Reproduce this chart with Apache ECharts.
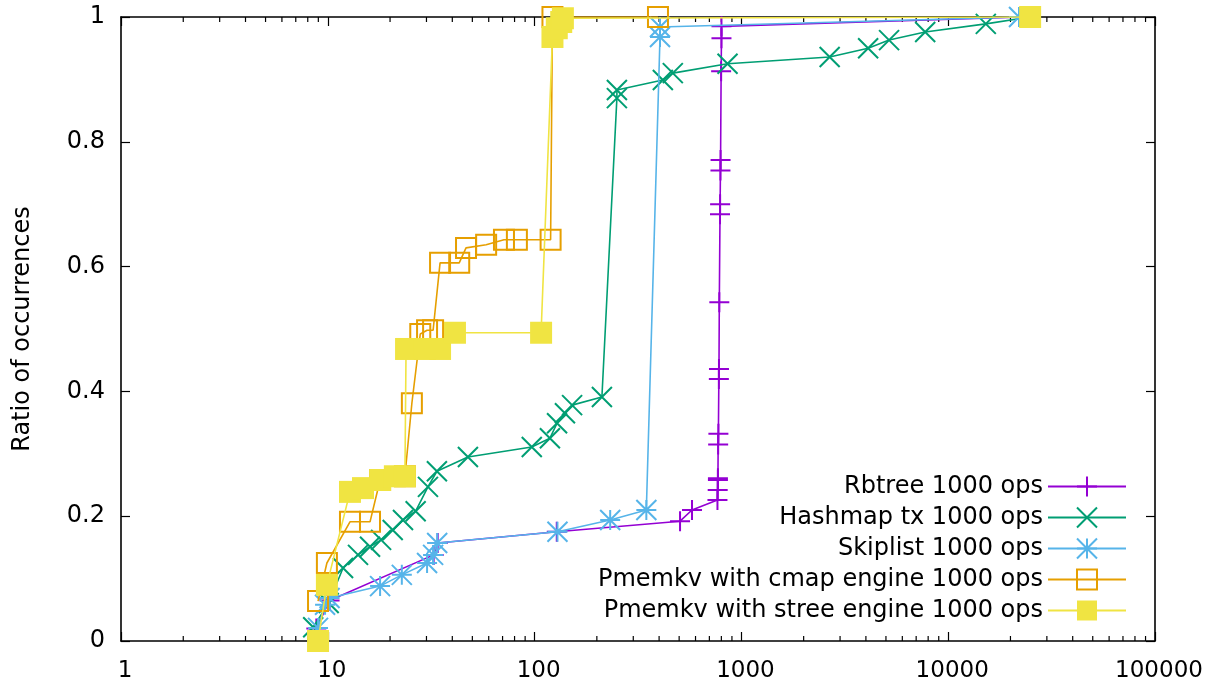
<!DOCTYPE html>
<html><head><meta charset="utf-8">
<script src="https://cdn.jsdelivr.net/npm/echarts@6/dist/echarts.min.js"></script>
<style>html,body{margin:0;padding:0;background:#fff}#c{width:1215px;height:692px}</style>
</head><body><div id="c"></div>
<script>
// ---- data ----
const seriesNames = [
  'Rbtree 1000 ops',
  'Hashmap tx 1000 ops',
  'Skiplist 1000 ops',
  'Pmemkv with cmap engine 1000 ops',
  'Pmemkv with stree engine 1000 ops'
];
const rbtree = [
  [8.8,0.02],[10.2,0.065],[32.5,0.138],[34,0.157],[128,0.175],[505,0.192],[577,0.21],
  [766,0.226],[768,0.242],[770,0.258],[770,0.261],[772,0.315],[774,0.332],[778,0.42],
  [779,0.436],[782,0.543],[788,0.684],[789,0.70],[792,0.754],[793,0.771],[798,0.913],
  [801,0.966],[801,0.985],[23000,1.0]
];
const hashmap = [
  [8.5,0.022],[10.1,0.061],[11.85,0.117],[14.0,0.138],[16.0,0.151],[18.1,0.162],[20.6,0.178],
  [23.1,0.194],[26.6,0.208],[30.5,0.247],[33.7,0.272],[47.6,0.295],[96.9,0.311],[118.6,0.325],
  [128.4,0.349],[140.2,0.365],[151.8,0.378],[211.6,0.391],[250,0.870],[250,0.883],[417,0.899],
  [466,0.910],[857,0.925],[2672,0.936],[4100,0.950],[5177,0.963],[7740,0.976],[15200,0.989],
  [24900,1.0]
];
const skiplist = [
  [8.97,0.021],[9.7,0.058],[10.2,0.069],[17.9,0.088],[22.8,0.106],[30.2,0.125],[32.3,0.138],
  [33.8,0.157],[129,0.175],[232,0.194],[347,0.21],[404,0.968],[404,0.984],[22000,1.0]
];
const cmap = [
  [8.97,0.064],[9.9,0.125],[12.8,0.191],[16.0,0.191],[17.9,0.258],[23.6,0.264],[25.5,0.381],
  [28.0,0.492],[30.2,0.498],[32.3,0.498],[34.9,0.606],[43.2,0.606],[46.6,0.630],[58.3,0.635],
  [71.1,0.643],[82.1,0.643],[119.5,0.643],[122,1.0],[395,1.0]
];
const stree = [
  [8.97,0.0],[9.9,0.09],[12.8,0.239],[14.8,0.245],[17.9,0.258],[21.1,0.264],[23.6,0.264],
  [23.9,0.468],[29.5,0.468],[34.9,0.468],[41.2,0.494],[107.5,0.494],[122,0.968],[128,0.982],
  [134.5,0.992],[137,0.998],[24900,1.0]
];
const yTicks = [0, 0.2, 0.4, 0.6, 0.8, 1];
const xDecades = [1, 10, 100, 1000, 10000];
const minorMults = [2, 3, 4, 5, 6, 7, 8, 9];

// ---- styling ----
const colors = ['#9400d3', '#009e73', '#56b4e9', '#e69f00', '#f0e442'];
const FONT = 'DejaVu Sans';
const FS = 24;
const symbols = [
  'path://M0,5L10,5M5,0L5,10',
  'path://M0,0L10,10M10,0L0,10',
  'path://M0,5L10,5M5,0L5,10M0,0L10,10M10,0L0,10',
  'path://M0,0L10,0L10,10L0,10Z',
  'rect'
];
const sizes = [20, 20, 20, 20, 22];
const dataSets = [rbtree, hashmap, skiplist, cmap, stree];

const minorData = [];
xDecades.forEach(d => minorMults.forEach(m => minorData.push([d * m, 0])));

const lineSeries = dataSets.map((d, i) => ({
  name: seriesNames[i],
  type: 'line',
  xAxisIndex: 0, yAxisIndex: 0,
  data: d,
  symbol: symbols[i],
  symbolSize: sizes[i],
  showSymbol: true,
  showAllSymbol: true,
  animation: false,
  lineStyle: { color: colors[i], width: 1.6 },
  itemStyle: i === 4
    ? { color: colors[i], borderWidth: 0 }
    : { color: i === 3 ? 'rgba(0,0,0,0)' : colors[i], borderColor: colors[i], borderWidth: 2 },
  emphasis: { disabled: true },
  z: 2 + i
}));

const minorSeries = {
  type: 'custom',
  xAxisIndex: 0, yAxisIndex: 0,
  silent: true,
  animation: false,
  data: minorData,
  renderItem: function (params, api) {
    const v = api.value(0);
    const b = api.coord([v, 0]);
    const t = api.coord([v, 1]);
    const st = { stroke: '#000', lineWidth: 1.2 };
    return {
      type: 'group',
      children: [
        { type: 'line', shape: { x1: b[0], y1: b[1], x2: b[0], y2: b[1] - 5 }, style: st },
        { type: 'line', shape: { x1: t[0], y1: t[1], x2: t[0], y2: t[1] + 5 }, style: st }
      ]
    };
  },
  z: 1
};

const axisCommon = {
  axisLine: { show: true, onZero: false, lineStyle: { color: '#000', width: 1.6 } },
  axisTick: { show: true, inside: true, length: 9, lineStyle: { color: '#000', width: 1.2 } },
  splitLine: { show: false },
  minorTick: { show: false },
  minorSplitLine: { show: false }
};

const chart = echarts.init(document.getElementById('c'), null, { renderer: 'canvas' });
chart.setOption({
  animation: false,
  backgroundColor: '#fff',
  grid: { left: 121, right: 60, top: 17, bottom: 51, containLabel: false, outerBoundsMode: 'none' },
  xAxis: [
    Object.assign({}, axisCommon, {
      type: 'log', logBase: 10, min: 1, max: 100000, position: 'bottom',
      axisLabel: { color: '#000', fontFamily: FONT, fontSize: 23, margin: 19,
        padding: [0, 0, 0, 8],
        formatter: v => String(Math.round(v)) }
    }),
    Object.assign({}, axisCommon, {
      type: 'log', logBase: 10, min: 1, max: 100000, position: 'top',
      axisLabel: { show: false }
    })
  ],
  yAxis: [
    Object.assign({}, axisCommon, {
      type: 'value', min: 0, max: 1, interval: 0.2, position: 'left',
      name: 'Ratio of occurrences', nameLocation: 'middle', nameGap: 86, nameRotate: 90,
      nameTextStyle: { color: '#000', fontFamily: FONT, fontSize: FS },
      axisLabel: { color: '#000', fontFamily: FONT, fontSize: FS, margin: 16,
        formatter: v => yTicks.indexOf(+v.toFixed(1)) >= 0 ? String(+v.toFixed(1)) : '' }
    }),
    Object.assign({}, axisCommon, {
      type: 'value', min: 0, max: 1, interval: 0.2, position: 'right',
      axisLabel: { show: false }
    })
  ],
  legend: {
    data: seriesNames,
    orient: 'vertical',
    align: 'right',
    right: 88,
    top: 474,
    padding: 0,
    itemWidth: 78,
    itemHeight: 25,
    itemGap: 6,
    selectedMode: false,
    textStyle: { color: '#000', fontFamily: FONT, fontSize: FS, lineHeight: 25 }
  },
  series: [minorSeries].concat(lineSeries)
});
</script>
</body></html>
